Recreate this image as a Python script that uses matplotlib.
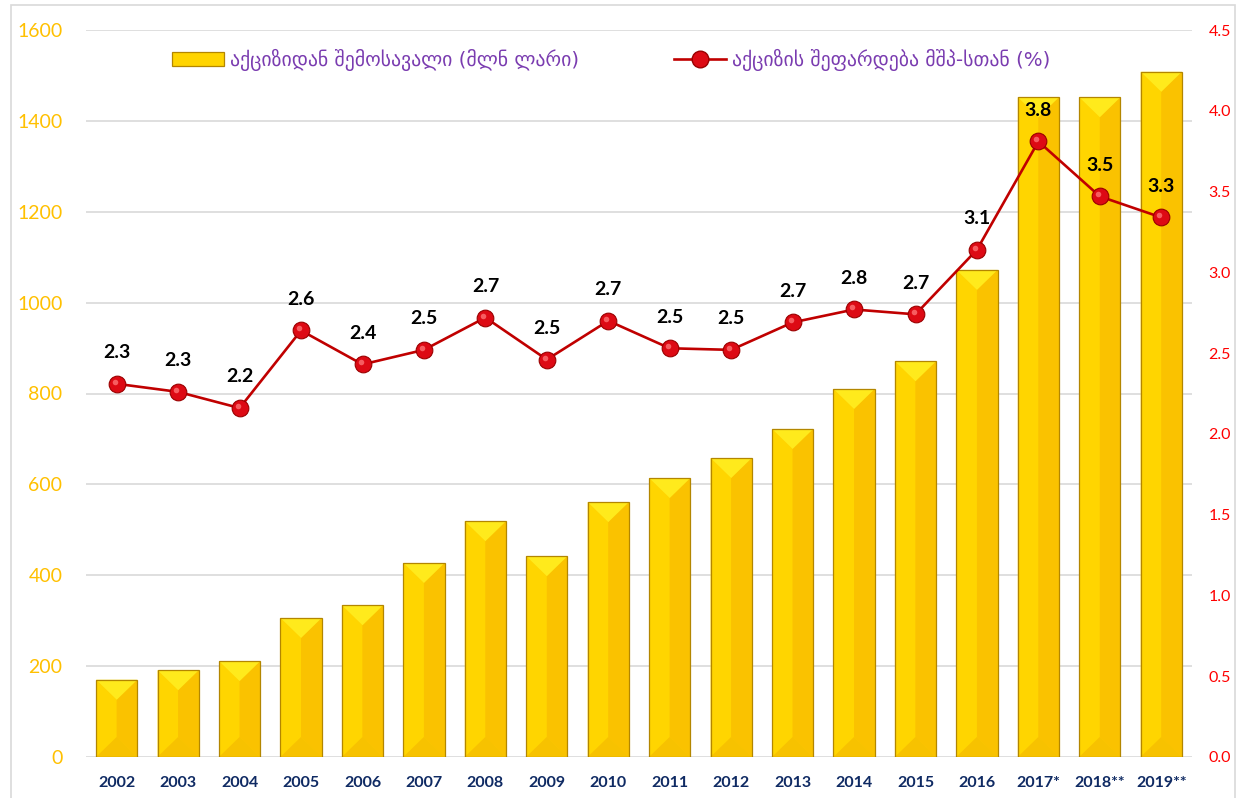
import matplotlib
matplotlib.use("Agg")
import matplotlib.pyplot as plt
from matplotlib.patches import Polygon, Patch, Rectangle
from matplotlib.lines import Line2D
from matplotlib.transforms import offset_copy

# ---- data ----
years = ["2002", "2003", "2004", "2005", "2006", "2007", "2008", "2009", "2010",
         "2011", "2012", "2013", "2014", "2015", "2016", "2017*", "2018**", "2019**"]
revenue = [170, 191, 211, 306, 334, 427, 519, 442, 561,
           614, 658, 722, 810, 871, 1072, 1452, 1452, 1508]
ratio = [2.31, 2.26, 2.16, 2.64, 2.43, 2.52, 2.72, 2.46, 2.70,
         2.53, 2.52, 2.69, 2.77, 2.74, 3.14, 3.81, 3.47, 3.34]
ratio_labels = ["2.3", "2.3", "2.2", "2.6", "2.4", "2.5", "2.7", "2.5", "2.7",
                "2.5", "2.5", "2.7", "2.8", "2.7", "3.1", "3.8", "3.5", "3.3"]
left_ticks = [0, 200, 400, 600, 800, 1000, 1200, 1400, 1600]
right_ticks = [0.0, 0.5, 1.0, 1.5, 2.0, 2.5, 3.0, 3.5, 4.0, 4.5]
legend_bar = "აქციზიდან შემოსავალი (მლნ ლარი)"
legend_line = "აქციზის შეფარდება მშპ-სთან (%)"

W, H = 1237, 798
fig = plt.figure(figsize=(W / 100, H / 100), dpi=100)
ax_l, ax_r, ax_b, ax_t = 86, 1192, 757, 30
ax = fig.add_axes([ax_l / W, (H - ax_b) / H, (ax_r - ax_l) / W, (ax_b - ax_t) / H])
ax2 = ax.twinx()

x = list(range(len(years)))
bw = 0.67
bars = ax.bar(x, revenue, width=bw, color="#FFCC00", edgecolor="none", zorder=2)

ax.set_xlim(-0.5, len(years) - 0.5)
ax.set_ylim(0, 1600)
ax2.set_ylim(0, 4.5)

# bevel faces derived from bar geometry
px_per_unit = (ax_b - ax_t) / 1600.0
depth_px = 20.0
d_units = depth_px / px_per_unit
for b in bars:
    x0 = b.get_x(); x1 = x0 + b.get_width(); h = b.get_height(); xc = (x0 + x1) / 2
    d = min(d_units, h / 2)
    faces = [
        ([(x0, h), (xc, h - d), (xc, d), (x0, 0)], "#FFD500"),
        ([(x1, h), (xc, h - d), (xc, d), (x1, 0)], "#FAC200"),
        ([(x0, 0), (x1, 0), (xc, d)], "#F7C200"),
        ([(x0, h), (x1, h), (xc, h - d)], "#FFEA1C"),
    ]
    for pts, c in faces:
        ax.add_patch(Polygon(pts, closed=True, facecolor=c, edgecolor="none", zorder=3))
    ax.add_patch(Polygon([(x0, 0), (x0, h), (x1, h), (x1, 0)], closed=True,
                         facecolor="none", edgecolor="#B38600", linewidth=0.9, zorder=4))

# grid
ax.set_yticks(left_ticks)
ax.yaxis.grid(True, color="#D9D9D9", linewidth=1.2, zorder=0)
ax.set_axisbelow(True)
for s in ax.spines.values():
    s.set_visible(False)
for s in ax2.spines.values():
    s.set_visible(False)

ax.set_xticks(x)
ax.set_xticklabels(years, fontsize=11.5, fontweight="bold", color="#0F2A63", family=["Lato", "DejaVu Sans"])
ax.tick_params(axis="x", length=0, pad=14)
ax.tick_params(axis="y", length=0, labelsize=14, labelcolor="#FFC000", pad=17)
for t in ax.get_yticklabels():
    t.set_family(["Lato", "DejaVu Sans"])

ax2.set_yticks(right_ticks)
ax2.set_yticklabels([f"{v:.1f}" for v in right_ticks])
ax2.tick_params(axis="y", length=0, labelsize=11.5, labelcolor="#FF0000", pad=12)
for t in ax2.get_yticklabels():
    t.set_family(["Lato", "DejaVu Sans"])

line, = ax2.plot(x, ratio, color="#C00000", linewidth=1.9, marker="o", markersize=12,
                 markerfacecolor="#DD0A14", markeredgecolor="#9A0000", markeredgewidth=0.8, zorder=5)
hl = offset_copy(ax2.transData, fig=fig, x=-2.0, y=2.0, units="dots")
ax2.plot(x, ratio, linestyle="none", marker="o", markersize=4.0, markerfacecolor="#FF7A7A",
         markeredgecolor="none", alpha=0.75, zorder=6, transform=hl)

for xi, yi, lab in zip(x, ratio, ratio_labels):
    ax2.annotate(lab, (xi, yi), xytext=(0, 22.5), textcoords="offset points",
                 ha="center", va="center", fontsize=14, fontweight="bold", color="black",
                 family=["Lato", "DejaVu Sans"], zorder=7)

# legend
h1 = Patch(facecolor="#FFD400", edgecolor="#B38600", linewidth=0.9)
h2 = Line2D([], [], color="#C00000", linewidth=1.9, marker="o", markersize=12,
            markerfacecolor="#DD0A14", markeredgecolor="#9A0000")
leg = ax2.legend([h1, h2], [legend_bar, legend_line], ncol=2, frameon=False,
                 loc="center", bbox_to_anchor=(611 / W, (H - 60) / H),
                 bbox_transform=fig.transFigure, handlelength=2.64,
                 handletextpad=0.3, columnspacing=4.8,
                 prop={"family": ["DejaVu Sans"], "size": 14.2})
for t in leg.get_texts():
    t.set_color("#7A3CB0")

# chart border
fig.patches.append(Rectangle((11 / W, -0.01), (1235 - 11) / W, (H - 5) / H + 0.01,
                             transform=fig.transFigure, fill=False, edgecolor="#D9D9D9",
                             linewidth=1.2))

fig.savefig("out.png", dpi=100)
